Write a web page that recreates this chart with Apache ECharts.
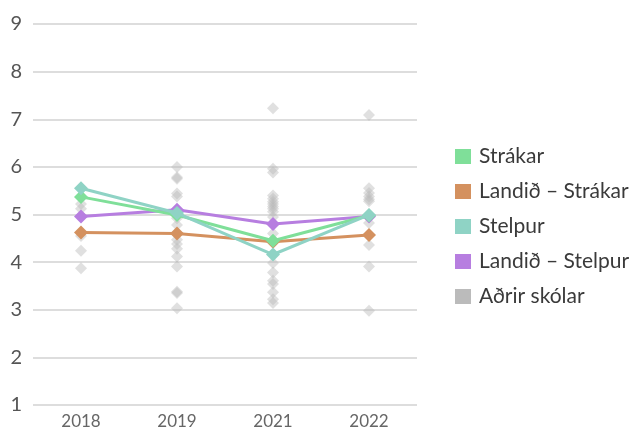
<!DOCTYPE html>
<html>
<head>
<meta charset="utf-8">
<script src="https://cdn.jsdelivr.net/npm/echarts@6/dist/echarts.min.js"></script>
<style>
  html, body { margin: 0; padding: 0; background: #fff; }
  #chart { width: 640px; height: 432px; }
</style>
</head>
<body>
<div id="chart"></div>
<script>
// Categories (survey years)
const years = ['2018', '2019', '2021', '2022'];

// School results by year
const strakar = [5.37, 4.99, 4.45, 4.98];
const landidStrakar = [4.62, 4.60, 4.43, 4.57];
const stelpur = [5.55, 5.03, 4.16, 4.99];
const landidStelpur = [4.96, 5.10, 4.80, 4.96];

// Other schools, one list per year
const otherSchools2018 = [5.22, 5.12, 4.55, 4.24, 3.87];
const otherSchools2019 = [6.00, 5.78, 5.75, 5.44, 5.38, 5.00, 4.92, 4.78, 4.47, 4.38, 4.28, 4.12, 3.91, 3.38, 3.35, 3.03];
const otherSchools2021 = [7.23, 5.96, 5.88, 5.40, 5.33, 5.27, 5.22, 5.17, 5.12, 5.06, 4.95, 4.60, 3.98, 3.78, 3.61, 3.54, 3.37, 3.22, 3.14];
const otherSchools2022 = [7.09, 5.55, 5.45, 5.38, 5.32, 5.28, 4.82, 4.36, 3.91, 2.98];

// Y-axis range
const yMin = 1;
const yMax = 9;
const yStep = 1;

const otherByYear = [otherSchools2018, otherSchools2019, otherSchools2021, otherSchools2022];
const otherPoints = [];
otherByYear.forEach((vals, i) => vals.forEach(v => otherPoints.push([years[i], v])));

const FONT = 'Lato, "Noto Sans", sans-serif';
const C_GREEN = '#7fdf99';
const C_ORANGE = '#d4915f';
const C_TEAL = '#8fd3c5';
const C_PURPLE = '#b77ee0';
const C_GRAY = '#bbbbbb';

function lineSeries(name, data, color, z) {
  return {
    name: name,
    type: 'line',
    data: data,
    z: z,
    symbol: 'diamond',
    symbolSize: 14,
    lineStyle: { color: color, width: 3 },
    itemStyle: { color: color },
    emphasis: { disabled: true },
    animation: false
  };
}

const chart = echarts.init(document.getElementById('chart'));
chart.setOption({
  animation: false,
  grid: { left: 33, right: 223, top: 24, bottom: 27, containLabel: false },
  legend: {
    orient: 'vertical',
    left: 450,
    top: 141,
    itemWidth: 16,
    itemHeight: 15,
    itemGap: 14,
    icon: 'rect',
    textStyle: { fontFamily: FONT, fontSize: 21, color: '#3a3a3a', padding: [0, 0, 0, 3] },
    data: [
      { name: 'Strákar' },
      { name: 'Landið – Strákar' },
      { name: 'Stelpur' },
      { name: 'Landið – Stelpur' },
      { name: 'Aðrir skólar', itemStyle: { color: C_GRAY, opacity: 1 } }
    ]
  },
  xAxis: {
    type: 'category',
    data: years,
    boundaryGap: true,
    axisLine: { show: false },
    axisTick: { show: false },
    axisLabel: { fontFamily: FONT, fontSize: 17, color: '#666', margin: 8 }
  },
  yAxis: {
    type: 'value',
    min: yMin,
    max: yMax,
    interval: yStep,
    axisLine: { show: false },
    axisTick: { show: false },
    splitLine: { lineStyle: { color: '#dddddd', width: 2 } },
    axisLabel: { fontFamily: FONT, fontSize: 20, color: '#555', margin: 11, padding: [0, 0, 8, 0] }
  },
  series: [
    {
      name: 'Aðrir skólar',
      type: 'scatter',
      data: otherPoints,
      z: 1,
      symbol: 'diamond',
      symbolSize: 12,
      itemStyle: { color: C_GRAY, opacity: 0.45 },
      emphasis: { disabled: true },
      animation: false
    },
    lineSeries('Landið – Strákar', landidStrakar, C_ORANGE, 2),
    lineSeries('Landið – Stelpur', landidStelpur, C_PURPLE, 3),
    lineSeries('Strákar', strakar, C_GREEN, 4),
    lineSeries('Stelpur', stelpur, C_TEAL, 5)
  ]
});
</script>
</body>
</html>
